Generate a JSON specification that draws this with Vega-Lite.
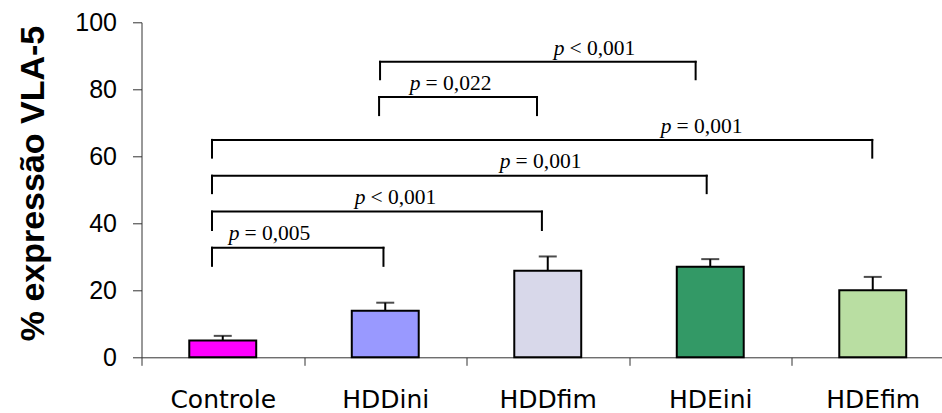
{
  "$schema": "https://vega.github.io/schema/vega-lite/v6.json",
  "autosize": "none",
  "width": 800.5,
  "height": 335,
  "padding": {"left": 141.5, "top": 22.3, "right": 0, "bottom": 55.7},
  "background": "white",
  "config": {"view": {"stroke": null}},
  "datasets": {
    "bars": [
      {"grupo": "Controle", "media": 5.0, "superior": 6.4},
      {"grupo": "HDDini", "media": 13.9, "superior": 16.3},
      {"grupo": "HDDfim", "media": 25.8, "superior": 30.1},
      {"grupo": "HDEini", "media": 27.0, "superior": 29.3},
      {"grupo": "HDEfim", "media": 20.0, "superior": 24.0}
    ],
    "brackets": [
      {"x1": 1.468, "x2": 3.41, "h": 88.2, "drop": 83.0, "xs": 2.603, "base": 90.2, "p": "p", "rest": "< 0,001"},
      {"x1": 1.462, "x2": 2.434, "h": 77.7, "drop": 72.3, "xs": 1.717, "base": 79.8, "p": "p", "rest": "= 0,022"},
      {"x1": 0.434, "x2": 4.497, "h": 64.9, "drop": 59.6, "xs": 3.262, "base": 67.0, "p": "p", "rest": "= 0,001"},
      {"x1": 0.434, "x2": 3.478, "h": 54.2, "drop": 49.0, "xs": 2.271, "base": 56.5, "p": "p", "rest": "= 0,001"},
      {"x1": 0.434, "x2": 2.464, "h": 43.5, "drop": 38.0, "xs": 1.378, "base": 45.8, "p": "p", "rest": "< 0,001"},
      {"x1": 0.434, "x2": 1.489, "h": 32.7, "drop": 27.3, "xs": 0.603, "base": 35.0, "p": "p", "rest": "= 0,005"}
    ]
  },
  "resolve": {"scale": {"x": "independent"}},
  "layer": [
    {
      "data": {"name": "bars"},
      "mark": {"type": "bar", "width": {"band": 0.412}, "stroke": "black", "strokeWidth": 2},
      "encoding": {
        "x": {
          "field": "grupo", "type": "nominal", "sort": null,
          "scale": {"range": [0, 812.5], "paddingInner": 0, "paddingOuter": 0},
          "axis": {
            "title": null, "labelAngle": 0, "tickBand": "extent", "tickSize": 8,
            "tickColor": "#333", "domainColor": "#333", "domainWidth": 1, "tickWidth": 1,
            "labelFont": "DejaVu Sans", "labelFontSize": 25, "labelColor": "black",
            "labelPadding": 22, "labelBaseline": "top"
          }
        },
        "y": {
          "field": "media", "type": "quantitative",
          "scale": {"domain": [0, 100], "nice": false},
          "axis": {
            "values": [0, 20, 40, 60, 80, 100], "grid": false, "tickSize": 9,
            "tickColor": "#333", "domainColor": "#333", "domainWidth": 1, "tickWidth": 1,
            "labelFont": "Liberation Sans", "labelFontSize": 25, "labelColor": "black",
            "labelPadding": 16,
            "title": "% expressão VLA-5", "titleFont": "Liberation Sans", "titleFontSize": 34,
            "titleFontWeight": "bold", "titleColor": "black", "titleAngle": -90,
            "titleX": -98.3, "titleY": 160.7, "titleBaseline": "alphabetic", "titleAlign": "center"
          }
        },
        "fill": {
          "field": "grupo", "type": "nominal", "legend": null,
          "scale": {
            "domain": ["Controle", "HDDini", "HDDfim", "HDEini", "HDEfim"],
            "range": ["#FF00FF", "#9999FF", "#D8D8EA", "#339966", "#B9DEA2"]
          }
        }
      }
    },
    {
      "data": {"name": "bars"},
      "mark": {"type": "rule", "color": "black", "strokeWidth": 2},
      "encoding": {
        "x": {"field": "grupo", "type": "nominal", "sort": null, "scale": {"range": [0, 812.5], "paddingInner": 0, "paddingOuter": 0}, "axis": null},
        "y": {"field": "media", "type": "quantitative"},
        "y2": {"field": "superior"}
      }
    },
    {
      "data": {"name": "bars"},
      "mark": {"type": "tick", "color": "black", "thickness": 2, "size": 18},
      "encoding": {
        "x": {"field": "grupo", "type": "nominal", "sort": null, "scale": {"range": [0, 812.5], "paddingInner": 0, "paddingOuter": 0}, "axis": null},
        "y": {"field": "superior", "type": "quantitative"}
      }
    },
    {
      "data": {"name": "brackets"},
      "mark": {"type": "rule", "color": "black", "strokeWidth": 2, "strokeCap": "square"},
      "encoding": {
        "x": {"field": "x1", "type": "quantitative", "scale": {"domain": [0, 5], "range": [0, 812.5], "nice": false, "zero": false}, "axis": null},
        "x2": {"field": "x2"},
        "y": {"field": "h", "type": "quantitative"}
      }
    },
    {
      "data": {"name": "brackets"},
      "mark": {"type": "rule", "color": "black", "strokeWidth": 2, "strokeCap": "square"},
      "encoding": {
        "x": {"field": "x1", "type": "quantitative", "scale": {"domain": [0, 5], "range": [0, 812.5], "nice": false, "zero": false}, "axis": null},
        "y": {"field": "h", "type": "quantitative"},
        "y2": {"field": "drop"}
      }
    },
    {
      "data": {"name": "brackets"},
      "mark": {"type": "rule", "color": "black", "strokeWidth": 2, "strokeCap": "square"},
      "encoding": {
        "x": {"field": "x2", "type": "quantitative", "scale": {"domain": [0, 5], "range": [0, 812.5], "nice": false, "zero": false}, "axis": null},
        "y": {"field": "h", "type": "quantitative"},
        "y2": {"field": "drop"}
      }
    },
    {
      "data": {"name": "brackets"},
      "mark": {"type": "text", "font": "Liberation Serif", "fontSize": 21.5, "fontStyle": "italic", "align": "right", "baseline": "alphabetic", "color": "black"},
      "encoding": {
        "x": {"field": "xs", "type": "quantitative", "scale": {"domain": [0, 5], "range": [0, 812.5], "nice": false, "zero": false}, "axis": null},
        "y": {"field": "base", "type": "quantitative"},
        "text": {"field": "p"}
      }
    },
    {
      "data": {"name": "brackets"},
      "mark": {"type": "text", "font": "Liberation Serif", "fontSize": 21.5, "align": "left", "baseline": "alphabetic", "dx": 5, "color": "black"},
      "encoding": {
        "x": {"field": "xs", "type": "quantitative", "scale": {"domain": [0, 5], "range": [0, 812.5], "nice": false, "zero": false}, "axis": null},
        "y": {"field": "base", "type": "quantitative"},
        "text": {"field": "rest"}
      }
    }
  ]
}
